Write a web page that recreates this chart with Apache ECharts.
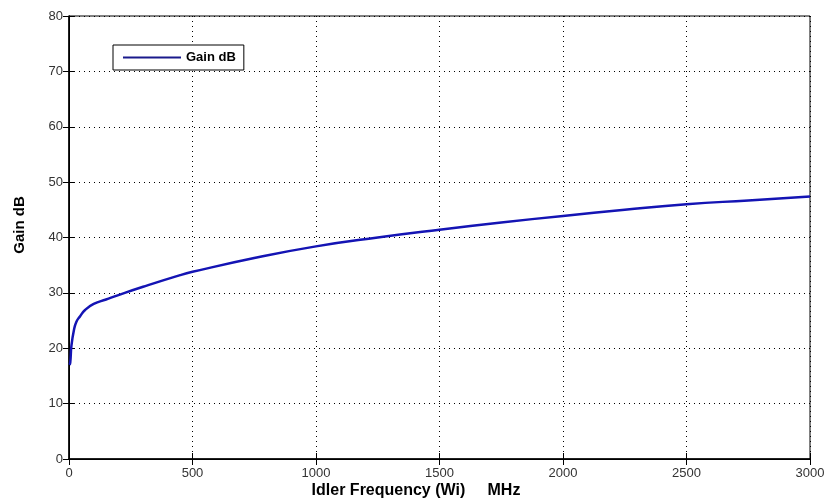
<!DOCTYPE html>
<html><head><meta charset="utf-8">
<script src="https://cdn.jsdelivr.net/npm/echarts@6/dist/echarts.min.js"></script>
<style>html,body{margin:0;padding:0;background:#fff}#c{width:832px;height:504px}</style>
</head><body><div id="c"></div>
<script>
var freq = [2, 5, 10, 20, 30, 45, 65, 100, 150, 200, 300, 450, 500, 750, 1000, 1250, 1500, 1750, 2000, 2250, 2500, 2750, 3000];
var gain = [17.0, 17.4, 20.5, 23.3, 24.8, 25.8, 26.9, 28.0, 28.8, 29.6, 31.1, 33.2, 33.8, 36.3, 38.4, 40.0, 41.4, 42.7, 43.9, 45.0, 46.0, 46.7, 47.4];
var seriesName = 'Gain dB';
var xTitle = 'Idler Frequency (Wi)     MHz';
var yTitle = 'Gain dB';

var chart = echarts.init(document.getElementById('c'));
var lbl = {color:'#333', fontFamily:'Liberation Sans, Arial, sans-serif', fontSize:13};
chart.setOption({
  animation:false,
  grid:{left:69, right:22, top:16, bottom:45, show:true, borderColor:'#000', borderWidth:1},
  legend:{show:true, left:113, top:45, orient:'horizontal', itemWidth:58, itemHeight:2, itemGap:6,
    padding:[6,8,6,10], borderColor:'#000', borderWidth:1, backgroundColor:'#fff',
    textStyle:{fontWeight:'bold', fontSize:13, color:'#000', fontFamily:'Liberation Sans, Arial, sans-serif', padding:[0,0,0,0]},
    data:[{name:seriesName, icon:'rect', itemStyle:{color:'#1a1a8c'}}]},
  xAxis:[{type:'value', min:0, max:3000, interval:500,
    axisLine:{show:true, lineStyle:{color:'#000', width:1.5}},
    axisTick:{show:true, inside:true, length:6, lineStyle:{color:'#000'}},
    axisLabel:Object.assign({margin:8, formatter:function(v){return String(v);}}, lbl),
    splitLine:{show:true, lineStyle:{type:[1,4], color:'#000', width:1}}},
   {type:'value', position:'top', min:0, max:3000, interval:500,
    axisLine:{show:true, lineStyle:{color:'#000'}},
    axisTick:{show:true, inside:true, length:6, lineStyle:{color:'#000'}},
    axisLabel:{show:false}, splitLine:{show:false}}],
  yAxis:[{type:'value', min:0, max:80, interval:10,
    axisLine:{show:true, lineStyle:{color:'#000', width:1.5}},
    axisTick:{show:true, inside:true, length:6, lineStyle:{color:'#000'}},
    axisLabel:Object.assign({margin:6}, lbl),
    splitLine:{show:true, lineStyle:{type:[1,4], color:'#000', width:1}}},
   {type:'value', position:'right', min:0, max:80, interval:10,
    axisLine:{show:true, lineStyle:{color:'#000'}},
    axisTick:{show:true, inside:true, length:6, lineStyle:{color:'#000'}},
    axisLabel:{show:false}, splitLine:{show:false}}],
  graphic:[
    {type:'text', left:'center', top:483, style:{text:xTitle, font:'bold 16px Liberation Sans, Arial, sans-serif', fill:'#000'}},
    {type:'text', x:20, y:225, rotation:Math.PI/2, style:{text:yTitle, font:'bold 15px Liberation Sans, Arial, sans-serif', fill:'#000', textAlign:'center', textVerticalAlign:'middle'}}
  ],
  series:[{name:seriesName, type:'line', smooth:true, showSymbol:false,
    data:freq.map(function(f,i){return [f,gain[i]];}),
    lineStyle:{color:'#1414b4', width:2.5}, itemStyle:{color:'#1a1a8c'}}]
});
</script></body></html>
